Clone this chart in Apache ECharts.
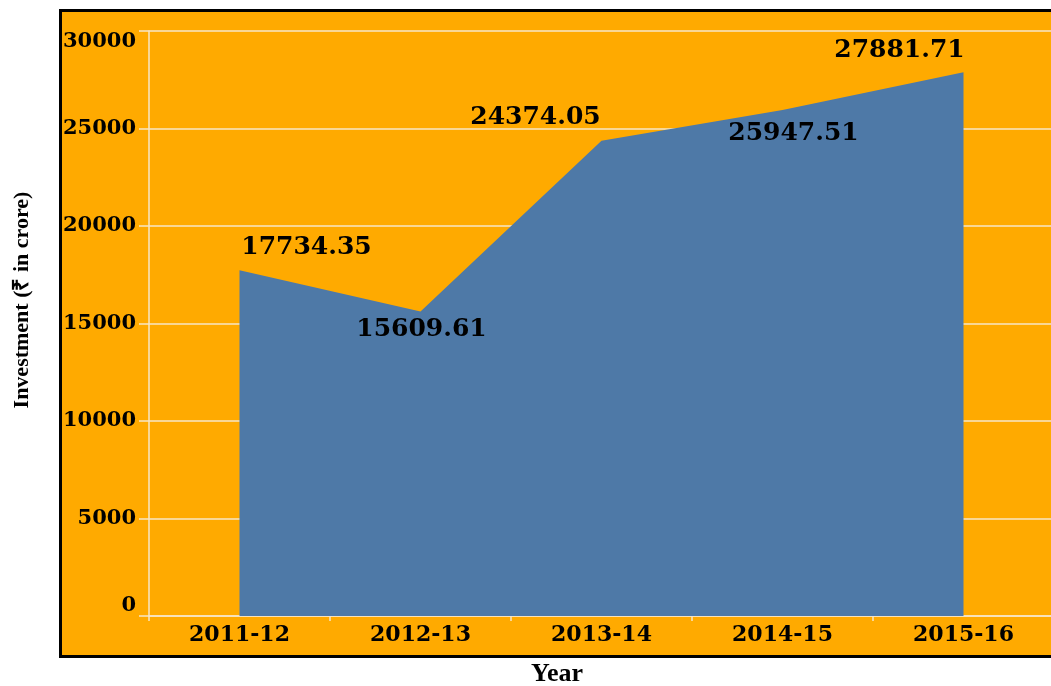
<!DOCTYPE html>
<html>
<head>
<meta charset="utf-8">
<script src="https://cdn.jsdelivr.net/npm/echarts@6/dist/echarts.min.js"></script>
<style>
  html, body { margin: 0; padding: 0; background: #fff; }
  #chart { width: 1051px; height: 686px; }
</style>
</head>
<body>
<div id="chart"></div>
<script>
// data
var years = ['2011-12', '2012-13', '2013-14', '2014-15', '2015-16'];
var investment = [17734.35, 15609.61, 24374.05, 25947.51, 27881.71];
var yTicks = [0, 5000, 10000, 15000, 20000, 25000, 30000];

// where each value label sits relative to its point (style only)
var labelOffsets = [[67, -23], [1, 18], [-66, -23], [11, 23], [-64, -22]];

var orange = '#ffaa00';
var blue = '#4e79a7';
var pale = '#f7e6c6';
var tickFont = 'DejaVu Serif';

var chart = echarts.init(document.getElementById('chart'));

var points = [];
for (var i = 0; i < investment.length; i++) {
    points.push({
        value: investment[i],
        label: { offset: labelOffsets[i] }
    });
}

var option = {
    animation: false,
    backgroundColor: '#fff',
    graphic: [
        {
            type: 'rect',
            z: -10,
            shape: { x: 60.5, y: 10.5, width: 1010, height: 646 },
            style: { fill: orange, stroke: '#000', lineWidth: 3 }
        },
        {
            type: 'text',
            x: 22,
            y: 300,
            rotation: Math.PI / 2,
            style: {
                text: 'Investment (₹ in crore)',
                font: 'bold 22px "Liberation Serif"',
                fill: '#000',
                align: 'center',
                verticalAlign: 'middle'
            }
        },
        {
            type: 'text',
            x: 557,
            y: 674,
            style: {
                text: 'Year',
                font: 'bold 26px "Liberation Serif"',
                fill: '#000',
                align: 'center',
                verticalAlign: 'middle'
            }
        }
    ],
    grid: { left: 149, top: 31, width: 905, bottom: 70, outerBoundsMode: 'none', containLabel: false },
    xAxis: {
        type: 'category',
        data: years,
        boundaryGap: true,
        axisLine: { lineStyle: { color: pale, width: 1.5 } },
        axisTick: { show: true, length: 5, lineStyle: { color: pale, width: 1.5 } },
        axisLabel: {
            margin: 8,
            color: '#000',
            fontFamily: tickFont,
            fontWeight: 'bold',
            fontSize: 22
        },
        splitLine: { show: false }
    },
    yAxis: {
        type: 'value',
        min: yTicks[0],
        max: yTicks[yTicks.length - 1],
        interval: yTicks[1] - yTicks[0],
        axisLine: { show: true, lineStyle: { color: pale, width: 1.5 } },
        axisTick: { show: true, length: 10, lineStyle: { color: pale, width: 1.5 } },
        axisLabel: {
            margin: 13,
            color: '#000',
            fontFamily: tickFont,
            fontWeight: 'bold',
            fontSize: 21,
            formatter: function (v) { return String(v); },
            verticalAlignMaxLabel: 'top',
            verticalAlignMinLabel: 'bottom'
        },
        splitLine: { show: true, lineStyle: { color: pale, width: 1.5 } }
    },
    series: [{
        type: 'line',
        data: points,
        symbol: 'circle',
        symbolSize: 2,
        showAllSymbol: true,
        itemStyle: { color: 'rgba(0,0,0,0)' },
        lineStyle: { width: 0 },
        areaStyle: { color: blue, opacity: 1 },
        label: {
            show: true,
            position: 'inside',
            color: '#000',
            fontFamily: tickFont,
            fontWeight: 'bold',
            fontSize: 25
        },
        z: 3
    }]
};

chart.setOption(option);
</script>
</body>
</html>
